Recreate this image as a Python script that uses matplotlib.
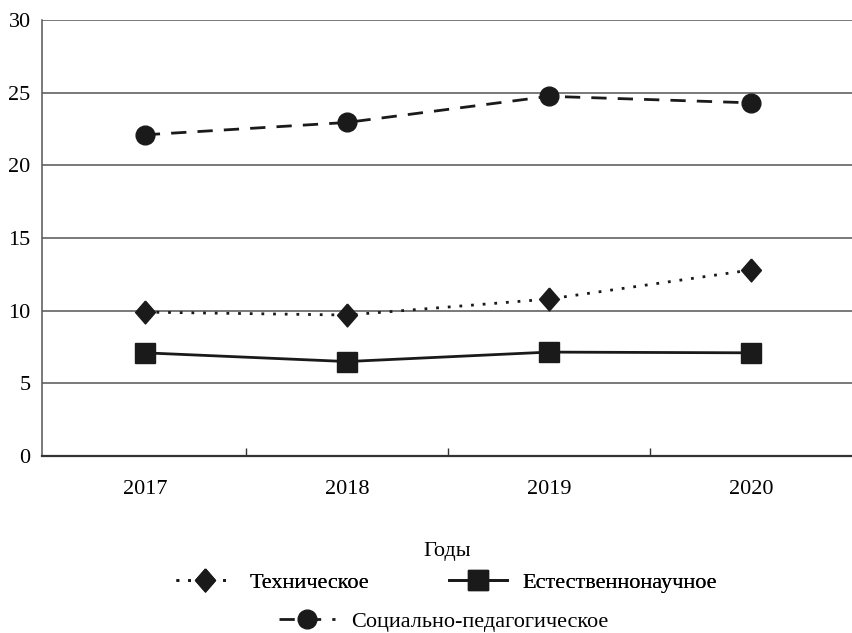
import matplotlib.pyplot as plt
from matplotlib.lines import Line2D

plt.rcParams['font.family'] = ['Liberation Serif', 'DejaVu Serif']

years = ['2017', '2018', '2019', '2020']
tech = [9.9, 9.7, 10.8, 12.8]
natural = [7.1, 6.5, 7.15, 7.1]
social = [22.1, 22.95, 24.75, 24.3]
names = ['Техническое', 'Естественнонаучное', 'Социально-педагогическое']

diamond = [(0, 1), (0.87, 0), (0, -1), (-0.87, 0), (0, 1)]
dark = '#1a1a1a'


def styles():
    return [
        dict(color=dark, lw=2, ls=(0, (1, 3.2)), marker=diamond, ms=16.5),
        dict(color=dark, lw=2, marker='s', ms=14),
        dict(color=dark, lw=2, ls=(0, (5.5, 4)), marker='o', ms=13.5),
    ]


def main():
    fig = plt.figure(figsize=(8.52, 6.33), dpi=100)
    ax = fig.add_axes([0.049, 0.2796, 0.951, 0.6888])

    x = range(len(years))
    st = styles()
    for vals, s in zip([tech, natural, social], st):
        ax.plot(x, vals, mfc=dark, mec=dark, **s)

    ax.set_xlim(-0.51, 3.5)
    ax.set_ylim(0, 30)
    ax.set_yticks([0, 5, 10, 15, 20, 25, 30])
    ax.yaxis.grid(True, color='#555555', lw=1.1)
    ax.set_axisbelow(True)

    ax.set_xticks(list(x))
    ax.set_xticklabels(years)
    ax.set_xticks([0.5, 1.5, 2.5], minor=True)
    ax.tick_params(axis='x', which='major', length=0, pad=17, labelsize=16)
    ax.tick_params(axis='x', which='minor', direction='in', length=6,
                   width=1, color='#333333')
    ax.tick_params(axis='y', length=0, pad=8, labelsize=16)

    for s in ['top', 'right']:
        ax.spines[s].set_visible(False)
    ax.spines['left'].set_color('#555555')
    ax.spines['left'].set_linewidth(1.1)
    ax.spines['bottom'].set_color('#333333')
    ax.spines['bottom'].set_linewidth(1.6)

    ax.set_xlabel('Годы', fontsize=16, labelpad=31)

    hs = [Line2D([], [], mfc=dark, mec=dark, **s) for s in st]

    leg1 = fig.legend(hs[:2], names[:2], loc='center', ncol=2,
                      bbox_to_anchor=(0.524, 0.08), frameon=False,
                      fontsize=16, handlelength=2.6, handletextpad=0.7,
                      columnspacing=3.6)
    fig.legend(hs[2:], names[2:], loc='center',
               bbox_to_anchor=(0.521, 0.018), frameon=False,
               fontsize=16, handlelength=2.5, handletextpad=0.75)
    fig.add_artist(leg1)

    fig.savefig('out.png', dpi=100)


if __name__ == '__main__':
    main()
